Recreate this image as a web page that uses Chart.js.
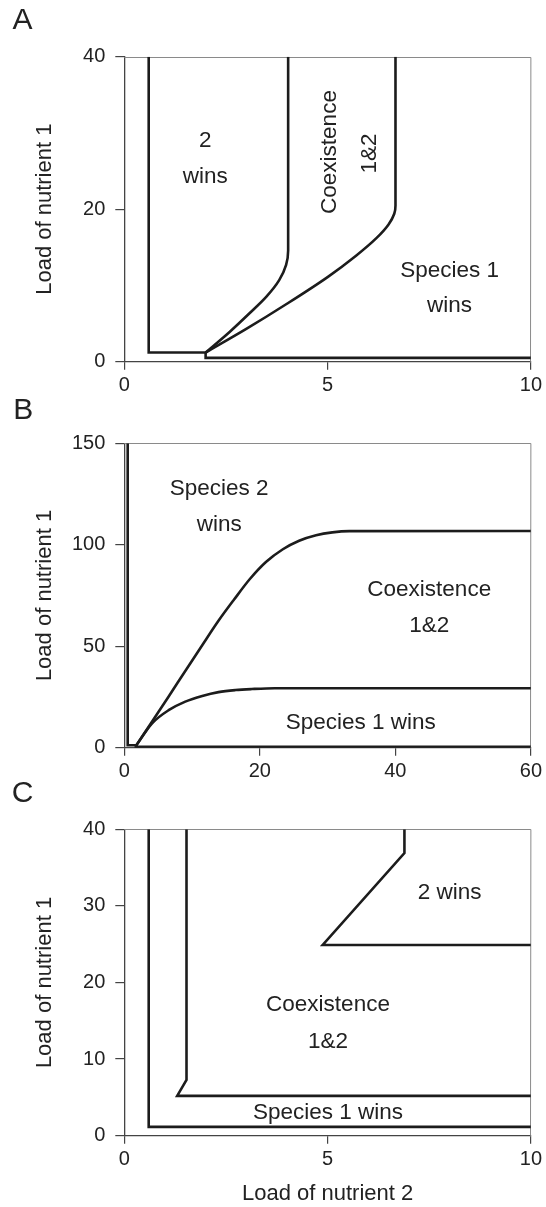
<!DOCTYPE html>
<html>
<head>
<meta charset="utf-8">
<title>Nutrient load regions</title>
<script src="https://cdn.jsdelivr.net/npm/chart.js@4.4.1/dist/chart.umd.min.js"></script>
<style>
  html, body { margin: 0; padding: 0; background: #fff; }
  body { width: 546px; height: 1207px; position: relative; overflow: hidden; }
  .panel { position: absolute; left: 0; width: 546px; }
  #panelA { top: 0; height: 398px; }
  #panelB { top: 388px; height: 400px; }
  #panelC { top: 775px; height: 432px; }
</style>
</head>
<body>
<div class="panel" id="panelA"><canvas id="chartA"></canvas></div>
<div class="panel" id="panelB"><canvas id="chartB"></canvas></div>
<div class="panel" id="panelC"><canvas id="chartC"></canvas></div>

<script>
// 패널 A 데이터 (x: load of nutrient 2, y: load of nutrient 1)
const aTicksX = [0, 5, 10];
const aTicksY = [0, 20, 40];
const aLine1X = [0.6, 0.6, 2.0, 2.0, 10];
const aLine1Y = [40, 1.2, 1.2, 0.5, 0.5];
const aLine2X = [2.0, 2.59, 3.08, 3.49, 3.81, 3.98, 4.03, 4.03];
const aLine2Y = [1.2, 3.9, 6.35, 8.5, 10.7, 12.7, 14.6, 40];
const aLine3X = [2.0, 3.0, 4.0, 5.0, 5.7, 6.2, 6.5, 6.64, 6.67, 6.67];
const aLine3Y = [1.2, 4.3, 7.6, 11.1, 13.9, 16.2, 18.0, 19.4, 20.5, 40];

// 패널 B 데이터
const bTicksX = [0, 20, 40, 60];
const bTicksY = [0, 50, 100, 150];
const bLine1X = [0.5, 0.5, 1.7, 1.7, 60];
const bLine1Y = [150, 1.2, 1.2, 0.5, 0.5];
const bLine2X = [1.7, 6.5, 9.0, 11.5, 14.0, 16.2, 18.5, 20.9, 23.4, 25.8, 28.3, 30.7, 33.2, 60];
const bLine2Y = [0.8, 25.0, 37.8, 50.5, 63.0, 73.0, 83.0, 91.5, 97.8, 102.0, 104.7, 106.1, 106.7, 106.8];
const bLine3X = [1.7, 4.1, 6.6, 9.0, 11.5, 13.9, 16.4, 18.8, 22.2, 60];
const bLine3Y = [0.8, 12.0, 18.6, 22.7, 25.5, 27.4, 28.4, 28.9, 29.3, 29.3];

// 패널 C 데이터
const cTicksX = [0, 5, 10];
const cTicksY = [0, 10, 20, 30, 40];
const cLine1X = [0.6, 0.6, 10];
const cLine1Y = [40, 1.15, 1.15];
const cLine2X = [1.53, 1.53, 1.3, 10];
const cLine2Y = [40, 7.3, 5.2, 5.2];
const cLine3X = [6.89, 6.89, 4.88, 10];
const cLine3Y = [40, 36.9, 24.9, 24.9];

// 영역 이름 (데이터 좌표)
const aRegionLabels = [
  { text: "2", x: 1.99, y: 28.2 },
  { text: "wins", x: 1.99, y: 23.5 },
  { text: "Coexistence", x: 5.2, y: 27.5, vertical: true },
  { text: "1&2", x: 6.2, y: 27.3, vertical: true },
  { text: "Species 1", x: 8.0, y: 11.15 },
  { text: "wins", x: 8.0, y: 6.56 }
];
const bRegionLabels = [
  { text: "Species 2", x: 14.0, y: 124.4 },
  { text: "wins", x: 14.0, y: 107 },
  { text: "Coexistence", x: 45.0, y: 74.9 },
  { text: "1&2", x: 45.0, y: 56.9 },
  { text: "Species 1 wins", x: 34.9, y: 9.1 }
];
const cRegionLabels = [
  { text: "2 wins", x: 8.0, y: 30.9 },
  { text: "Coexistence", x: 5.01, y: 16.3 },
  { text: "1&2", x: 5.01, y: 11.4 },
  { text: "Species 1 wins", x: 5.01, y: 2.18 }
];

const FONT = "'Liberation Sans', Arial, Helvetica, sans-serif";
const INK = "#222222";

// x, y 배열을 점 목록으로
function toPoints(xs, ys) {
  return xs.map((x, i) => ({ x: x, y: ys[i] }));
}

// smooth: 곡선을 부드럽게 할 기준 축 ('x' 또는 'y'), 없으면 꺾은선
function boundary(xs, ys, smooth) {
  const ds = {
    data: toPoints(xs, ys),
    showLine: true,
    borderColor: "#1c1c1c",
    borderWidth: 2.6,
    borderJoinStyle: "miter",
    pointRadius: 0,
    pointHoverRadius: 0,
    fill: false,
    tension: 0
  };
  if (smooth) {
    ds.cubicInterpolationMode = "monotone";
    ds.indexAxis = smooth;
  }
  return ds;
}

// 프레임, 영역 이름, 패널 글자
const panelDeco = {
  id: "panelDeco",
  beforeDatasetsDraw(chart) {
    const { ctx, chartArea } = chart;
    ctx.save();
    ctx.strokeStyle = "#8a8a8a";
    ctx.lineWidth = 1;
    ctx.beginPath();
    ctx.moveTo(chartArea.left, Math.round(chartArea.top) + 0.5);
    ctx.lineTo(chartArea.right, Math.round(chartArea.top) + 0.5);
    ctx.lineTo(Math.round(chartArea.right) - 0.5, chartArea.bottom);
    ctx.stroke();
    ctx.restore();
  },
  afterDraw(chart, args, opts) {
    const { ctx } = chart;
    const xs = chart.scales.x;
    const ys = chart.scales.y;
    ctx.save();
    ctx.fillStyle = INK;
    ctx.font = "22.5px " + FONT;
    ctx.textBaseline = "alphabetic";
    ctx.textAlign = "center";
    (opts.labels || []).forEach((lab) => {
      const px = xs.getPixelForValue(lab.x);
      const py = ys.getPixelForValue(lab.y);
      if (lab.vertical) {
        ctx.save();
        ctx.translate(px, py);
        ctx.rotate(-Math.PI / 2);
        ctx.fillText(lab.text, 0, 0);
        ctx.restore();
      } else {
        ctx.fillText(lab.text, px, py);
      }
    });
    ctx.font = "30px " + FONT;
    ctx.textAlign = "left";
    ctx.fillText(opts.letter, opts.letterX, opts.letterY);
    ctx.restore();
  }
};

function xAxis(ticks, max, height, title) {
  return {
    type: "linear",
    min: 0,
    max: max,
    afterBuildTicks: (s) => { s.ticks = ticks.map((v) => ({ value: v })); },
    afterFit: (s) => { s.height = height; },
    ticks: { color: INK, font: { family: FONT, size: 20 }, padding: 4, maxRotation: 0, autoSkip: false },
    grid: { drawOnChartArea: false, tickLength: 8, color: "#444", lineWidth: 1.2 },
    border: { color: "#444", width: 1.3 },
    title: title
      ? { display: true, text: title, color: INK, font: { family: FONT, size: 22 }, padding: { top: 0, bottom: 0 } }
      : { display: false }
  };
}

function yAxis(ticks, max) {
  return {
    type: "linear",
    min: 0,
    max: max,
    afterBuildTicks: (s) => { s.ticks = ticks.map((v) => ({ value: v })); },
    afterFit: (s) => { s.width = 124.3; },
    ticks: { color: INK, font: { family: FONT, size: 20 }, padding: 10, autoSkip: false },
    grid: { drawOnChartArea: false, tickLength: 9, color: "#444", lineWidth: 1.2 },
    border: { color: "#444", width: 1.3 },
    title: { display: true, text: "Load of nutrient 1", color: INK, font: { family: FONT, size: 22 }, padding: { top: 32, bottom: 0 } }
  };
}

function makePanel(id, cfg) {
  const ctx = document.getElementById(id);
  if (!ctx) return;

  new Chart(ctx, {
    type: "scatter",
    data: { datasets: cfg.lines },
    options: {
      responsive: true,
      maintainAspectRatio: false,
      animation: false,
      events: [],
      layout: { padding: { top: cfg.top, right: 13.3, bottom: 0, left: 0 } },
      plugins: {
        legend: { display: false },
        tooltip: { enabled: false },
        panelDeco: { letter: cfg.letter, letterX: cfg.letterX, letterY: cfg.letterY, labels: cfg.labels }
      },
      scales: {
        x: xAxis(cfg.ticksX, cfg.maxX, cfg.xHeight, cfg.xTitle),
        y: yAxis(cfg.ticksY, cfg.maxY)
      }
    },
    plugins: [panelDeco]
  });
}

window.addEventListener("DOMContentLoaded", () => {
  makePanel("chartA", {
    lines: [boundary(aLine1X, aLine1Y), boundary(aLine2X, aLine2Y, "y"), boundary(aLine3X, aLine3Y, "y")],
    ticksX: aTicksX, ticksY: aTicksY, maxX: 10, maxY: 40,
    top: 56.7, xHeight: 36.3,
    letter: "A", letterX: 12.5, letterY: 29.3,
    labels: aRegionLabels
  });
  makePanel("chartB", {
    lines: [boundary(bLine1X, bLine1Y), boundary(bLine2X, bLine2Y, "x"), boundary(bLine3X, bLine3Y, "x")],
    ticksX: bTicksX, ticksY: bTicksY, maxX: 60, maxY: 150,
    top: 55.3, xHeight: 40.3,
    letter: "B", letterX: 13.3, letterY: 31.3,
    labels: bRegionLabels
  });
  makePanel("chartC", {
    lines: [boundary(cLine1X, cLine1Y), boundary(cLine2X, cLine2Y), boundary(cLine3X, cLine3Y)],
    ticksX: cTicksX, ticksY: cTicksY, maxX: 10, maxY: 40,
    top: 54.3, xHeight: 71.3, xTitle: "Load of nutrient 2",
    letter: "C", letterX: 11.7, letterY: 27,
    labels: cRegionLabels
  });
});
</script>
</body>
</html>
